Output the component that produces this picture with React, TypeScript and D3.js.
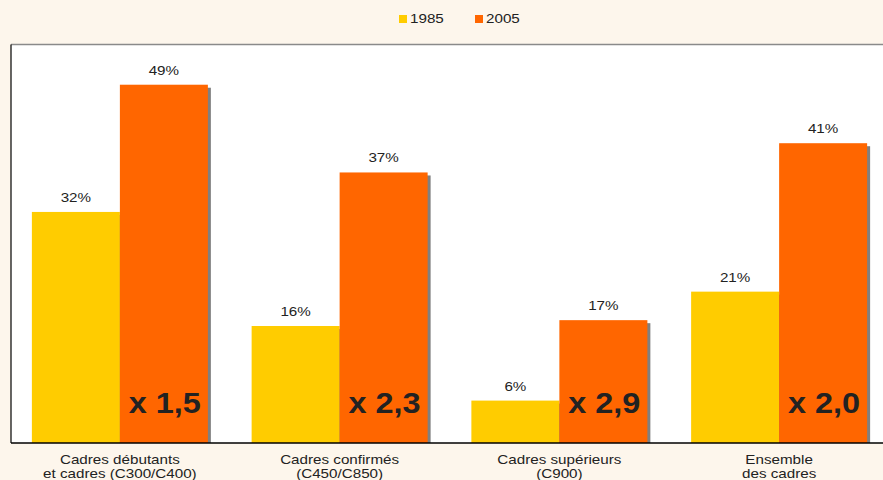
import React from "react";
import * as d3 from "d3";

const categories = ["Cadres débutants|et cadres (C300/C400)", "Cadres confirmés|(C450/C850)", "Cadres supérieurs|(C900)", "Ensemble|des cadres"];
const seriesNames = ["1985", "2005"];
const values1985 = [31.6, 16, 5.8, 20.7];
const values2005 = [49, 37, 16.8, 41];
const multipliers = ["x 1,5", "x 2,3", "x 2,9", "x 2,0"];
const colors = ["#FFCC00", "#FF6600"];

const W = 883;
const H = 480;
const plotLeft = 11;
const plotTop = 44.5;
const baseY = 443;

function SText({ x, y, sx = 1.17, children, ...rest }: any) {
  return (
    <text transform={`translate(${x},${y}) scale(${sx},1)`} {...rest}>
      {children}
    </text>
  );
}

export default function App() {
  const x0 = d3.scaleBand<string>().domain(categories).range([10, 889]).paddingInner(0).paddingOuter(0);
  const bw = x0.bandwidth();
  const barW = 88;
  const x1 = d3.scaleBand<string>().domain(seriesNames).range([(bw - 2 * barW) / 2, (bw + 2 * barW) / 2]);
  const y = d3.scaleLinear().domain([0, 54.5]).range([baseY, plotTop]);
  const seriesVals = [values1985, values2005];
  const fontFam = "Arial, 'Liberation Sans', Helvetica, sans-serif";

  return (
    <div style={{ position: "absolute", left: 0, top: 0 }}>
      <svg width={W} height={H} style={{ display: "block" }} fontFamily={fontFam}>
        <rect x={0} y={0} width={W} height={H} fill="#FDF6EC" />
        <rect x={plotLeft} y={plotTop} width={W - plotLeft} height={baseY - plotTop} fill="#FFFFFF" />
        <line x1={plotLeft} x2={W} y1={plotTop} y2={plotTop} stroke="#8a8a8a" strokeWidth={1.5} />
        <line x1={plotLeft} x2={plotLeft} y1={plotTop} y2={baseY} stroke="#000" strokeWidth={1.2} />
        {/* legend */}
        {seriesNames.map((s, i) => (
          <g key={s} transform={`translate(${399 + i * 76},15)`}>
            <rect x={0} y={0} width={8} height={8} fill={colors[i]} />
            <SText x={11} y={8} fontSize={13} fill="#222">{s}</SText>
          </g>
        ))}
        {categories.map((c, ci) => {
          const gx = x0(c)!;
          return (
            <g key={c} transform={`translate(${gx},0)`}>
              {seriesNames.map((s, si) => {
                const v = seriesVals[si][ci];
                return (
                  <rect key={"sh" + s} x={x1(s)! + 3} y={y(v) + 3} width={x1.bandwidth()} height={baseY - y(v) - 3} fill="#808080" />
                );
              })}
              {seriesNames.map((s, si) => {
                const v = seriesVals[si][ci];
                return (
                  <rect key={s} x={x1(s)!} y={y(v)} width={x1.bandwidth()} height={baseY - y(v)} fill={colors[si]} />
                );
              })}
              {seriesNames.map((s, si) => {
                const v = seriesVals[si][ci];
                return (
                  <SText key={"l" + s} x={x1(s)! + x1.bandwidth() / 2} y={y(v) - 10} textAnchor="middle" fontSize={13} fill="#222">
                    {Math.round(v) + "%"}
                  </SText>
                );
              })}
              <SText x={x1("2005")! + x1.bandwidth() - 7} y={413} sx={1.08} textAnchor="end" fontSize={30} fontWeight="bold" fill="#222">
                {multipliers[ci]}
              </SText>
              {c.split("|").map((line, li) => (
                <SText key={li} x={bw / 2} y={464 + li * 14} textAnchor="middle" fontSize={13} fill="#222">
                  {line}
                </SText>
              ))}
            </g>
          );
        })}
        <line x1={plotLeft} x2={W} y1={baseY} y2={baseY} stroke="#000" strokeWidth={1.5} />
      </svg>
    </div>
  );
}
